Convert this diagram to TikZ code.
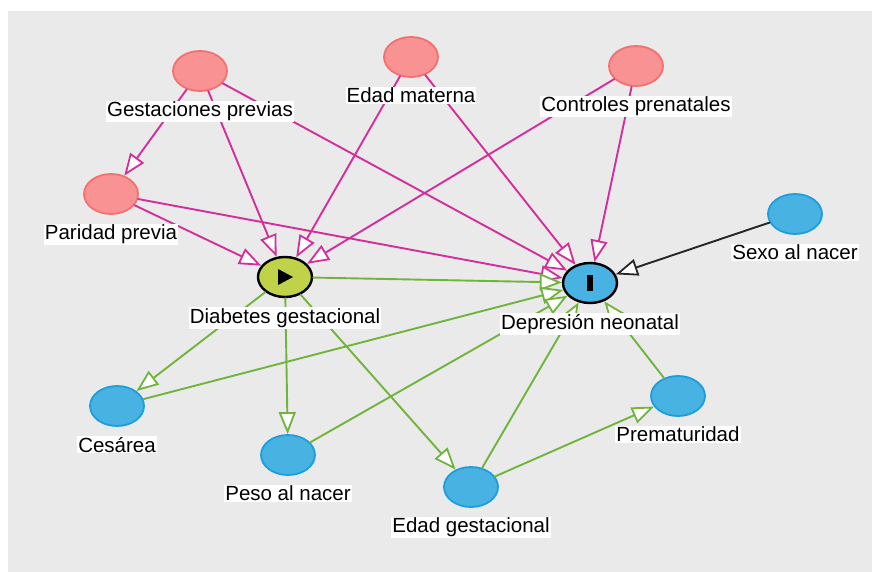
\documentclass[tikz,border=0pt]{standalone}
\usepackage{fontspec}
\setmainfont{Liberation Sans}
\usetikzlibrary{shapes.geometric,arrows.meta,positioning}

\definecolor{fondo}{RGB}{234,234,234}
\definecolor{rosa}{RGB}{249,146,146}
\definecolor{rosaborde}{RGB}{244,112,112}
\definecolor{azul}{RGB}{72,178,226}
\definecolor{azulborde}{RGB}{28,158,220}
\definecolor{amarillo}{RGB}{192,210,72}
\definecolor{magenta}{RGB}{213,46,155}
\definecolor{verde}{RGB}{112,180,60}

\begin{document}
\begin{tikzpicture}[x=1pt, y=-1pt, line cap=round, line join=round,
    var/.style={ellipse, line width=1.8pt, minimum width=54pt, minimum height=40pt, inner sep=0pt},
    anc/.style={var, draw=rosaborde, fill=rosa},
    otra/.style={var, draw=azulborde, fill=azul},
    expo/.style={var, draw=black, fill=amarillo, line width=2.4pt},
    resul/.style={var, draw=black, fill=azul, line width=2.4pt},
    lbl/.style={fill=white, inner sep=1pt, text=black, font=\fontsize{20.5}{22}\selectfont},
    punta/.style={-{Triangle[open, fill=white, length=22pt, width=17pt, line width=1.8pt]}},
    sesgo/.style={punta, draw=magenta, line width=1.9pt},
    causal/.style={punta, draw=verde, line width=1.9pt},
    otraarr/.style={punta, draw=black!85, line width=1.9pt}]

    % Fondo
    \useasboundingbox (0,0) rectangle (872,572);
    \fill[white] (0,0) rectangle (872,572);
    \fill[fondo] (8,11) rectangle (872,572);

    % Variables
    \node[anc] (gp) at (200,71) {};
    \node[anc] (em) at (411,57) {};
    \node[anc] (cp) at (636,66) {};
    \node[anc] (pp) at (111,194) {};
    \node[otra] (sn) at (795,214) {};
    \node[expo] (dg) at (285,277) {};
    \node[resul] (dn) at (590,283) {};
    \node[otra] (ce) at (117,406) {};
    \node[otra] (pn) at (288,455) {};
    \node[otra] (eg) at (471,487) {};
    \node[otra] (pm) at (678,396) {};

    % Simbolos de exposicion y resultado
    \fill[black] (dg.center) ++(-7,-8) -- ++(15,8) -- ++(-15,8) -- cycle;
    \fill[black] (dn.center) ++(-3,-8) rectangle ++(6,16);

    % Caminos sesgados
    \draw[sesgo] (gp) -- (pp);
    \draw[sesgo] (gp) -- (dg);
    \draw[sesgo] (gp) -- (dn);
    \draw[sesgo] (em) -- (dg);
    \draw[sesgo] (em) -- (dn);
    \draw[sesgo] (cp) -- (dg);
    \draw[sesgo] (cp) -- (dn);
    \draw[sesgo] (pp) -- (dg);
    \draw[sesgo] (pp) -- (dn);

    % Caminos causales
    \draw[causal] (dg) -- (dn);
    \draw[causal] (dg) -- (ce);
    \draw[causal] (dg) -- (pn);
    \draw[causal] (dg) -- (eg);
    \draw[causal] (ce) -- (dn);
    \draw[causal] (pn) -- (dn);
    \draw[causal] (eg) -- (dn);
    \draw[causal] (eg) -- (pm);
    \draw[causal] (pm) -- (dn);

    % Otro
    \draw[otraarr] (sn) -- (dn);

    % Etiquetas
    \node[lbl, below=9pt of gp] (gpl) {Gestaciones previas};
    \node[lbl, below=9pt of em] (eml) {Edad materna};
    \node[lbl, below=9pt of cp] (cpl) {Controles prenatales};
    \node[lbl, below=9pt of pp] (ppl) {Paridad previa};
    \node[lbl, below=9pt of sn] (snl) {Sexo al nacer};
    \node[lbl, below=9pt of dg] (dgl) {Diabetes gestacional};
    \node[lbl, below=9pt of dn] (dnl) {Depresión neonatal};
    \node[lbl, below=9pt of ce] (cel) {Cesárea};
    \node[lbl, below=9pt of pn] (pnl) {Peso al nacer};
    \node[lbl, below=9pt of eg] (egl) {Edad gestacional};
    \node[lbl, below=9pt of pm] (pml) {Prematuridad};
\end{tikzpicture}
\end{document}
